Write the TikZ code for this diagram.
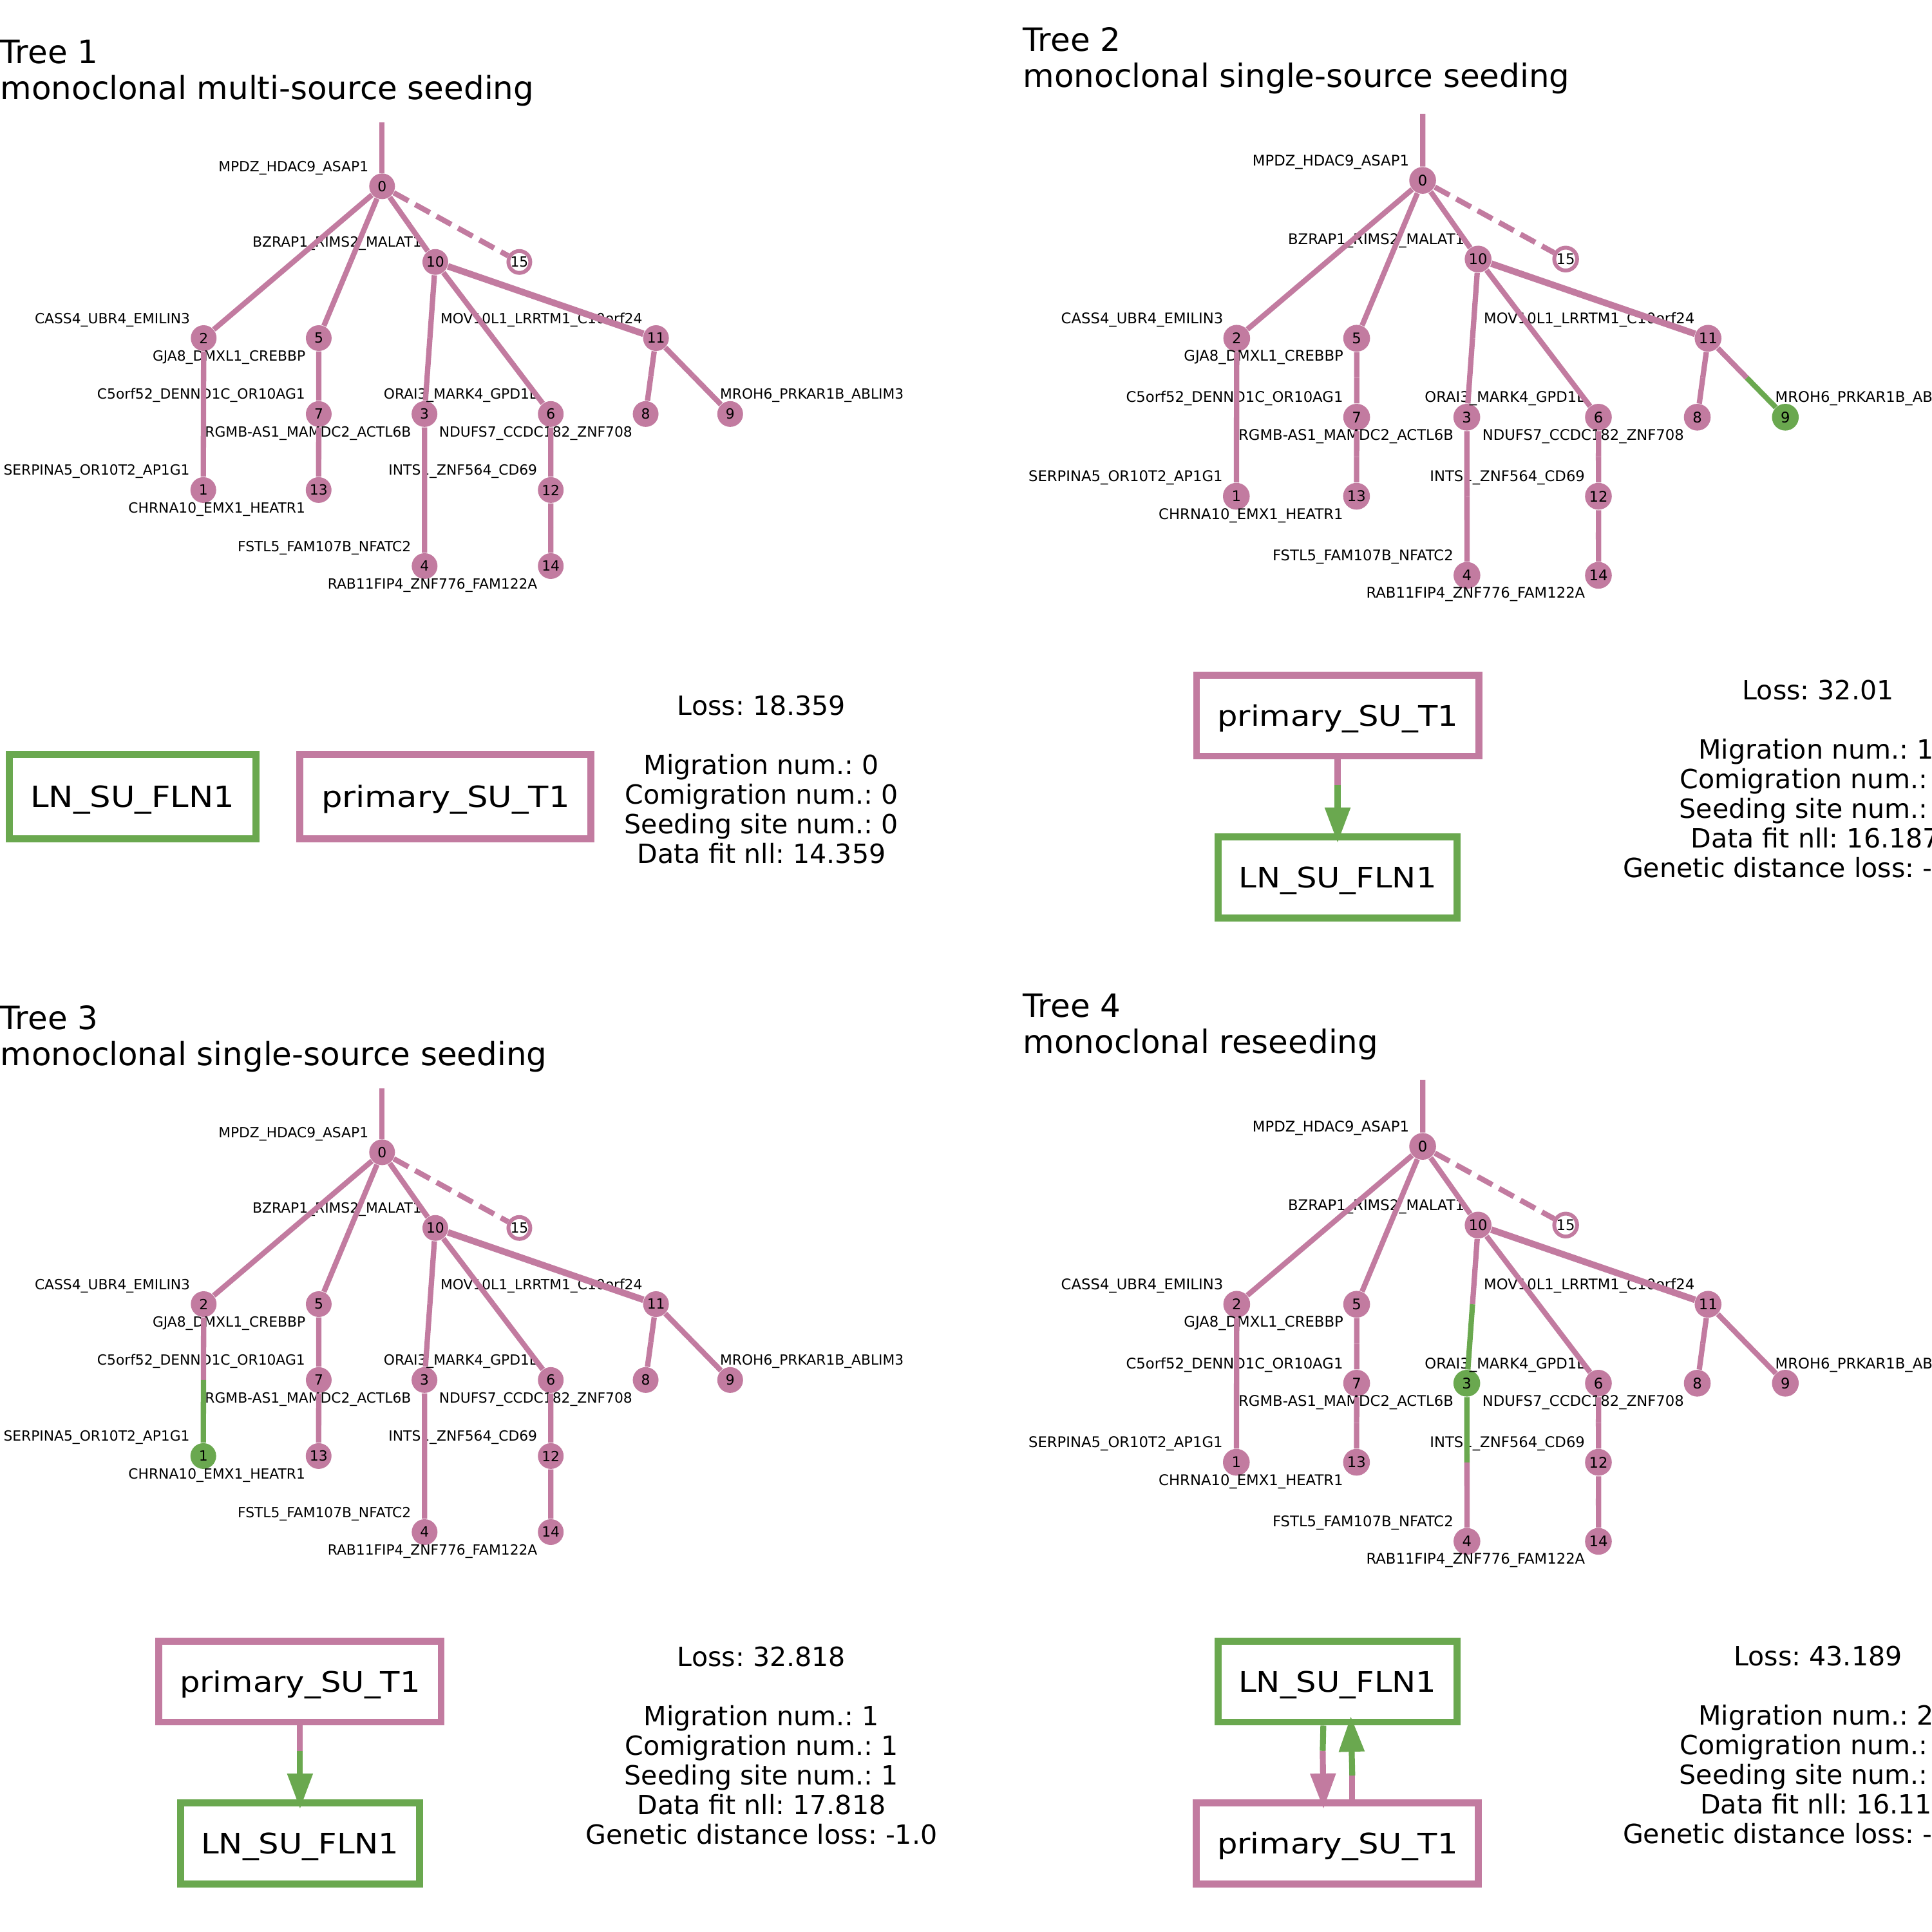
\documentclass[tikz,border=0pt]{standalone}
\usepackage{fontspec}
\setmainfont{DejaVu Sans}
\usepackage{graphicx}
\usetikzlibrary{arrows.meta,calc}
\frenchspacing

\definecolor{pk}{RGB}{194,123,160}
\definecolor{gr}{RGB}{106,168,79}
% clone colours, overridden inside a tree's scope
\colorlet{nc0}{pk}\colorlet{nc1}{pk}\colorlet{nc2}{pk}\colorlet{nc3}{pk}
\colorlet{nc4}{pk}\colorlet{nc5}{pk}\colorlet{nc6}{pk}\colorlet{nc7}{pk}
\colorlet{nc8}{pk}\colorlet{nc9}{pk}\colorlet{nc10}{pk}\colorlet{nc11}{pk}
\colorlet{nc12}{pk}\colorlet{nc13}{pk}\colorlet{nc14}{pk}\colorlet{nc15}{pk}

\def\du{0.019133cm}
% sizes of one tree (the right-hand trees are a little larger)
\def\gsz{6.2}
\def\csz{0.4cm}
\def\hsz{0.34cm}
\newcommand{\sitelabel}[1]{\scalebox{1.13}[1]{#1}}

\tikzset{
  clone/.style={circle, inner sep=0pt, minimum size=\csz, font=\fontsize{\gsz}{8}\selectfont},
  hollow/.style={circle, inner sep=0pt, minimum size=\hsz, fill=white, draw=pk, line width=1.7pt, font=\fontsize{\gsz}{8}\selectfont},
  genelabel/.style={inner sep=0pt, font=\fontsize{\gsz}{8}\selectfont},
  upleft/.style={genelabel, anchor=base east, xshift=-10.7*\du, yshift=12*\du},
  lowleft/.style={genelabel, anchor=base east, xshift=-10.5*\du, yshift=-18.5*\du},
  upright/.style={genelabel, anchor=base west, xshift=-8.6*\du, yshift=12*\du},
  treeedge/.style={line width=2.36pt},
  seedline/.style={line width=2.36pt, draw=pk, dash pattern=on 7.4pt off 3.4pt},
  sitebox/.style={rectangle, line width=3.1pt, fill=white, inner sep=0pt, text height=9.1pt, text depth=0pt, minimum height=65.6*\du, font=\fontsize{12.5}{15}\selectfont},
  mig/.style={line width=2.6pt},
  mighead/.style={-{Triangle[length=15.7pt,width=10.8pt]}, shorten >=-7.6*\du},
  paneltitle/.style={anchor=base west, inner sep=0pt, font=\fontsize{14.2}{17}\selectfont},
  statline/.style={anchor=base, inner sep=0pt, font=\fontsize{11.7}{14}\selectfont},
  statwest/.style={statline, anchor=base west},
}

% one clone tree, node names start with #1
\newcommand{\clonetree}[1]{%
  \coordinate (#1top) at (310.1,99.3);
  \node[clone, fill=nc0] (#10) at (310.1,151.2) {0};
  \node[clone, fill=nc10] (#110) at (353.3,212.6) {10};
  \node[hollow] (#115) at (421.5,212.6) {15};
  \node[clone, fill=nc2] (#12) at (165.3,274.4) {2};
  \node[clone, fill=nc5] (#15) at (258.7,274.4) {5};
  \node[clone, fill=nc11] (#111) at (532.4,274.4) {11};
  \node[clone, fill=nc7] (#17) at (258.7,336) {7};
  \node[clone, fill=nc3] (#13) at (344.5,336) {3};
  \node[clone, fill=nc6] (#16) at (447,336) {6};
  \node[clone, fill=nc8] (#18) at (524,336) {8};
  \node[clone, fill=nc9] (#19) at (592.6,336) {9};
  \node[clone, fill=nc1] (#11) at (165,397.7) {1};
  \node[clone, fill=nc13] (#113) at (258.6,397.7) {13};
  \node[clone, fill=nc12] (#112) at (447,397.7) {12};
  \node[clone, fill=nc4] (#14) at (344.6,459.4) {4};
  \node[clone, fill=nc14] (#114) at (447,459.4) {14};
  % mutation labels
  \node[upleft] (#1g0) at (#10) {MPDZ\_HDAC9\_ASAP1};
  \node[upleft] (#1g10) at (#110) {BZRAP1\_RIMS2\_MALAT1};
  \node[upleft] (#1g2) at (#12) {CASS4\_UBR4\_EMILIN3};
  \node[lowleft] (#1g5) at (#15) {GJA8\_DMXL1\_CREBBP};
  \node[upleft] (#1g11) at (#111) {MOV10L1\_LRRTM1\_C10orf24};
  \node[upleft] (#1g7) at (#17) {C5orf52\_DENND1C\_OR10AG1};
  \node[upleft] (#1g6) at (#16) {ORAI3\_MARK4\_GPD1L};
  \node[lowleft] (#1g3) at (#13) {RGMB-AS1\_MAMDC2\_ACTL6B};
  \node[lowleft] (#1g8) at (#18) {NDUFS7\_CCDC182\_ZNF708};
  \node[upright] (#1g9) at (#19) {MROH6\_PRKAR1B\_ABLIM3};
  \node[upleft] (#1g1) at (#11) {SERPINA5\_OR10T2\_AP1G1};
  \node[lowleft] (#1g13) at (#113) {CHRNA10\_EMX1\_HEATR1};
  \node[upleft] (#1g12) at (#112) {INTS1\_ZNF564\_CD69};
  \node[upleft] (#1g4) at (#14) {FSTL5\_FAM107B\_NFATC2};
  \node[lowleft] (#1g14) at (#114) {RAB11FIP4\_ZNF776\_FAM122A};
  % edges, parent colour then child colour
  \draw[treeedge, draw=pk] (#10) -- (#1top);
  \foreach \p/\c in {0/2,0/5,0/10,10/3,10/6,11/8,11/9,2/1,5/7,7/13,3/4,6/12,12/14}{
    \draw[treeedge, draw=nc\p] (#1\p) -- ($(#1\p)!0.5!(#1\c)$);
    \draw[treeedge, draw=nc\c] ($(#1\p)!0.5!(#1\c)$) -- (#1\c);
  }
  \draw[treeedge, line width=2.9pt, draw=pk] (#110) -- (#111);
  \draw[seedline] (#10) -- (#115);
}

\begin{document}
\begin{tikzpicture}[x=0.019133cm, y=-0.019133cm]
\useasboundingbox (0,0) rectangle (1568,1568);
\clip (0,0) rectangle (1568,1568);

% ---- Tree 1
\node[paneltitle] (t1a) at (0,51.4) {Tree 1};
\node[paneltitle] (t1b) at (0,80.5) {monoclonal multi-source seeding};
\begin{scope}
  \clonetree{a}
\end{scope}
\node[sitebox, draw=gr, minimum width=200.2*\du, minimum height=68.3*\du, text height=9.4pt, font=\fontsize{12.9}{15}\selectfont] (a-ln) at (107.6,646.6) {\sitelabel{LN\_SU\_FLN1}};
\node[sitebox, draw=pk, minimum width=236.2*\du, minimum height=68.3*\du, text height=9.4pt, font=\fontsize{12.9}{15}\selectfont] (a-pri) at (361.6,646.6) {\sitelabel{primary\_SU\_T1}};
\node[statline] (a-s0) at (618,580.2) {Loss: 18.359};
\node[statline] (a-s1) at (618,628.3) {Migration num.: 0};
\node[statline] (a-s2) at (618,652.35) {Comigration num.: 0};
\node[statline] (a-s3) at (618,676.4) {Seeding site num.: 0};
\node[statline] (a-s4) at (618,700.45) {Data fit nll: 14.359};

% ---- Tree 2
\node[paneltitle] (t2a) at (830,41.3) {Tree 2};
\node[paneltitle] (t2b) at (830,70.6) {monoclonal single-source seeding};
\begin{scope}[shift={(1154.6,146.4)}, xscale=1.042, yscale=1.04, shift={(-310.1,-151.2)}]
  \colorlet{nc9}{gr}
  \def\gsz{6.47}\def\csz{0.416cm}\def\hsz{0.355cm}
  \clonetree{b}
\end{scope}
\node[sitebox, draw=pk, minimum width=229*\du] (b-pri) at (1085.6,580.8) {\sitelabel{primary\_SU\_T1}};
\node[sitebox, draw=gr, minimum width=194*\du] (b-ln) at (1085.6,712.2) {\sitelabel{LN\_SU\_FLN1}};
\coordinate (b-mid) at (1085.6,637);
\draw[mig, draw=pk] (b-pri.south) -- (b-mid);
\draw[mig, mighead, draw=gr, fill=gr] (b-mid) -- (b-ln.north);
\node[statline] (b-s0) at (1475.5,568) {Loss: 32.01};
\node[statwest] (b-s1) at (1378,616.1) {Migration num.: 1};
\node[statwest] (b-s2) at (1363,640.15) {Comigration num.:};
\node[statwest] (b-s3) at (1362.6,664.2) {Seeding site num.:};
\node[statwest] (b-s4) at (1372,688.25) {Data fit nll: 16.187};
\node[statwest] (b-s5) at (1316.8,712.3) {Genetic distance loss: -};

% ---- Tree 3
\node[paneltitle] (t3a) at (0,835.4) {Tree 3};
\node[paneltitle] (t3b) at (0,864.5) {monoclonal single-source seeding};
\begin{scope}[shift={(0,784)}]
  \colorlet{nc1}{gr}
  \clonetree{c}
\end{scope}
\node[sitebox, draw=pk, minimum width=229*\du] (c-pri) at (243.5,1364.8) {\sitelabel{primary\_SU\_T1}};
\node[sitebox, draw=gr, minimum width=194*\du] (c-ln) at (243.5,1496.2) {\sitelabel{LN\_SU\_FLN1}};
\coordinate (c-mid) at (243.5,1421);
\draw[mig, draw=pk] (c-pri.south) -- (c-mid);
\draw[mig, mighead, draw=gr, fill=gr] (c-mid) -- (c-ln.north);
\node[statline] (c-s0) at (618,1352.2) {Loss: 32.818};
\node[statline] (c-s1) at (618,1400.3) {Migration num.: 1};
\node[statline] (c-s2) at (618,1424.35) {Comigration num.: 1};
\node[statline] (c-s3) at (618,1448.4) {Seeding site num.: 1};
\node[statline] (c-s4) at (618,1472.45) {Data fit nll: 17.818};
\node[statline] (c-s5) at (618,1496.5) {Genetic distance loss: -1.0};

% ---- Tree 4
\node[paneltitle] (t4a) at (830,825.3) {Tree 4};
\node[paneltitle] (t4b) at (830,854.6) {monoclonal reseeding};
\begin{scope}[shift={(1154.6,930.4)}, xscale=1.042, yscale=1.04, shift={(-310.1,-151.2)}]
  \colorlet{nc3}{gr}
  \def\gsz{6.47}\def\csz{0.416cm}\def\hsz{0.355cm}
  \clonetree{d}
\end{scope}
\node[sitebox, draw=gr, minimum width=194*\du] (d-ln) at (1085.5,1364.8) {\sitelabel{LN\_SU\_FLN1}};
\node[sitebox, draw=pk, minimum width=229*\du] (d-pri) at (1085.5,1496.2) {\sitelabel{primary\_SU\_T1}};
\coordinate (d-dmid) at (1073.5,1421);
\coordinate (d-umid) at (1097.5,1441);
\draw[mig, draw=gr] ($(d-ln.south)+(-11.5,0)$) -- (d-dmid);
\draw[mig, mighead, draw=pk, fill=pk] (d-dmid) -- ($(d-pri.north)+(-11.5,0)$);
\draw[mig, draw=pk] ($(d-pri.north)+(12,0)$) -- (d-umid);
\draw[mig, mighead, draw=gr, fill=gr] (d-umid) -- ($(d-ln.south)+(11,0)$);
\node[statline] (d-s0) at (1475.5,1352) {Loss: 43.189};
\node[statwest] (d-s1) at (1378,1400.1) {Migration num.: 2};
\node[statwest] (d-s2) at (1363,1424.15) {Comigration num.:};
\node[statwest] (d-s3) at (1362.6,1448.2) {Seeding site num.:};
\node[statwest] (d-s4) at (1379.6,1472.25) {Data fit nll: 16.11};
\node[statwest] (d-s5) at (1316.8,1496.3) {Genetic distance loss: -};
\end{tikzpicture}
\end{document}
